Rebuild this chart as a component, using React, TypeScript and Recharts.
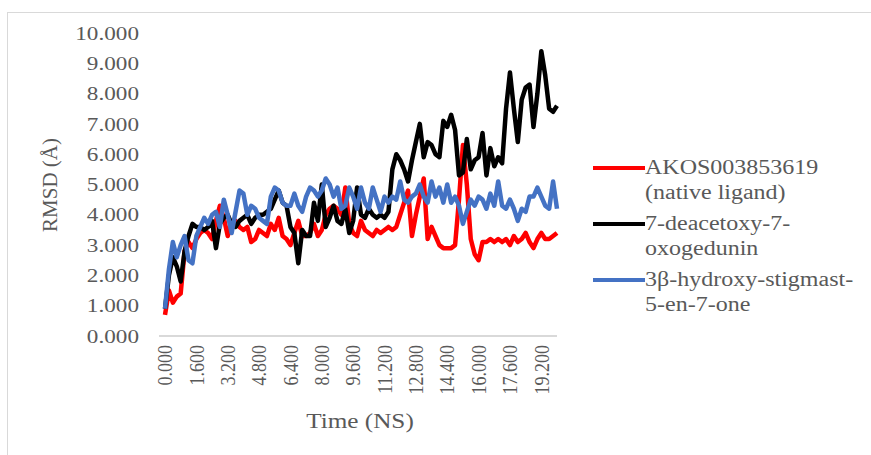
import { LineChart, Line, XAxis, YAxis, Legend } from "recharts";

const TIME = [
  0, 0.2, 0.4, 0.6, 0.8, 1, 1.2, 1.4, 1.6, 1.8,
  2, 2.2, 2.4, 2.6, 2.8, 3, 3.2, 3.4, 3.6, 3.8,
  4, 4.2, 4.4, 4.6, 4.8, 5, 5.2, 5.4, 5.6, 5.8,
  6, 6.2, 6.4, 6.6, 6.8, 7, 7.2, 7.4, 7.6, 7.8,
  8, 8.2, 8.4, 8.6, 8.8, 9, 9.2, 9.4, 9.6, 9.8,
  10, 10.2, 10.4, 10.6, 10.8, 11, 11.2, 11.4, 11.6, 11.8,
  12, 12.2, 12.4, 12.6, 12.8, 13, 13.2, 13.4, 13.6, 13.8,
  14, 14.2, 14.4, 14.6, 14.8, 15, 15.2, 15.4, 15.6, 15.8,
  16, 16.2, 16.4, 16.6, 16.8, 17, 17.2, 17.4, 17.6, 17.8,
  18, 18.2, 18.4, 18.6, 18.8, 19, 19.2, 19.4, 19.6, 19.8,
  20,
];

const NATIVE = [
  0.7, 1.5, 1.1, 1.3, 1.4, 2.8, 3.1, 2.9, 3.2, 3.4,
  3.5, 3.4, 3.2, 3.8, 4.3, 3.9, 3.3, 3.7, 3.8, 3.6,
  3.5, 3.6, 3.1, 3.2, 3.5, 3.4, 3.3, 3.7, 3.5, 3.9,
  3.3, 3.2, 3.0, 3.4, 3.8, 3.3, 3.3, 3.4, 3.7, 3.3,
  3.5, 4.0, 4.2, 4.3, 4.2, 4.0, 4.9, 3.7, 3.4, 3.3,
  3.8, 3.5, 3.4, 3.3, 3.5, 3.4, 3.5, 3.6, 3.5, 3.6,
  4.0, 4.4, 4.8, 3.3, 4.0, 4.6, 5.2, 3.2, 3.6, 3.3,
  3.0, 2.9, 2.9, 2.9, 3.0, 4.5, 6.3, 5.0, 3.2, 2.7,
  2.5, 3.1, 3.1, 3.2, 3.1, 3.2, 3.1, 3.2, 3.0, 3.3,
  3.1, 3.2, 3.4, 3.1, 2.9, 3.2, 3.4, 3.2, 3.2, 3.3,
  3.4,
];

const OXOGEDUNIN = [
  0.9, 2.0, 2.6, 2.3, 1.8, 2.8, 3.3, 3.7, 3.6, 3.6,
  3.5, 3.6, 3.8, 2.9, 3.7, 3.9, 4.0, 3.7, 3.6, 3.8,
  3.9, 4.0, 3.7, 3.9, 4.0, 4.0, 4.1, 4.2, 4.5, 4.8,
  4.4, 4.3, 3.6, 3.4, 2.4, 3.5, 3.3, 3.3, 4.4, 3.8,
  5.0, 3.6, 3.9, 4.3, 3.8, 3.7, 4.2, 3.4, 3.8, 4.9,
  4.0, 3.9, 4.2, 4.0, 3.9, 4.0, 3.9, 4.1, 5.5, 6.0,
  5.8, 5.5, 5.1, 5.8, 6.4, 7.0, 5.9, 6.4, 6.3, 6.0,
  5.9, 7.1, 6.9, 7.3, 6.8, 5.3, 5.4, 6.5, 5.5, 5.8,
  5.9, 6.7, 5.3, 6.2, 5.6, 5.9, 5.7, 7.5, 8.7, 7.5,
  6.4, 7.8, 8.2, 8.3, 6.9, 8.0, 9.4, 8.6, 7.5, 7.4,
  7.6,
];

const STIGMAST = [
  0.9, 2.2, 3.1, 2.6, 3.0, 3.3, 2.5, 2.4, 3.3, 3.6,
  3.9, 3.7, 4.0, 4.1, 3.6, 4.5, 4.0, 3.4, 4.1, 4.8,
  4.7, 4.0, 4.3, 4.2, 3.9, 3.8, 3.7, 4.6, 4.9, 4.8,
  4.4, 4.3, 4.3, 4.7, 4.3, 4.1, 4.6, 4.9, 4.8, 4.6,
  4.8, 5.2, 5.0, 4.6, 4.9, 4.2, 4.3, 4.9, 4.6, 4.2,
  4.9, 4.4, 4.2, 4.9, 4.5, 4.1, 4.6, 4.4, 4.6, 4.5,
  5.1, 4.5, 4.4, 4.6, 4.7, 5.0, 4.6, 4.4, 5.1, 4.6,
  4.9, 4.4, 5.0, 4.4, 4.6, 4.3, 3.7, 4.1, 4.5, 4.3,
  4.6, 4.5, 4.2, 4.7, 4.3, 5.1, 4.3, 4.2, 4.5, 4.2,
  3.8, 4.2, 4.1, 4.6, 4.6, 4.9, 4.6, 4.3, 4.2, 5.1,
  4.2,
];

const Y_TICKS = [0, 1, 2, 3, 4, 5, 6, 7, 8, 9, 10];

const SERIES = [
  { key: "native", name: "AKOS003853619 (native ligand)", lines: ["AKOS003853619", "(native ligand)"], color: "#ff0000" },
  { key: "oxo", name: "7-deacetoxy-7-oxogedunin", lines: ["7-deacetoxy-7-", "oxogedunin"], color: "#000000" },
  { key: "stig", name: "3β-hydroxy-stigmast-5-en-7-one", lines: ["3β-hydroxy-stigmast-", "5-en-7-one"], color: "#4472c4" },
];

const data = TIME.map((t, i) => ({
  t: t.toFixed(3),
  native: NATIVE[i],
  oxo: OXOGEDUNIN[i],
  stig: STIGMAST[i],
}));

const FONT = "'Liberation Serif', 'DejaVu Serif', serif";
const GREY = "#595959";

function YTick({ x, y, payload }: any) {
  return (
    <g transform={`translate(${x},${y})`}>
      <text
        textAnchor="end"
        dy="0.35em"
        fill={GREY}
        fontSize={19}
        fontFamily={FONT}
        transform="scale(1.22,1)"
      >
        {Number(payload.value).toFixed(3)}
      </text>
    </g>
  );
}

function XTick({ x, y, payload }: any) {
  return (
    <g transform={`translate(${x},${y})`}>
      <text
        textAnchor="end"
        dy="0.35em"
        fill={GREY}
        fontSize={18}
        fontFamily={FONT}
        transform="rotate(-90) scale(1,1.15)"
      >
        {payload.value}
      </text>
    </g>
  );
}

function LegendBox() {
  return (
    <div style={{ fontFamily: FONT, fontSize: 20, color: GREY }}>
      {SERIES.map((s) => (
        <div key={s.key} style={{ display: "flex", alignItems: "flex-start", marginBottom: 6 }}>
          <div style={{ width: 52, height: 4, background: s.color, marginTop: 11, flex: "none" }} />
          <div
            style={{
              lineHeight: "25px",
              transform: "scaleX(1.2)",
              transformOrigin: "left",
              whiteSpace: "nowrap",
            }}
          >
            {s.lines.map((l) => (
              <div key={l}>{l}</div>
            ))}
          </div>
        </div>
      ))}
    </div>
  );
}

export default function App() {
  return (
    <div
      style={{
        position: "absolute",
        left: 0,
        top: 0,
        width: 871,
        height: 455,
        overflow: "hidden",
        background: "#fff",
      }}
    >
      <div
        style={{
          position: "absolute",
          left: 7,
          top: 12,
          width: 900,
          height: 500,
          border: "1px solid #d9d9d9",
        }}
      />
      <div style={{ position: "absolute", left: 0, top: 0 }}>
        <LineChart
          width={871}
          height={455}
          data={data}
          margin={{ top: 33, right: 44, bottom: 19, left: 79 }}
        >
          <XAxis
            dataKey="t"
            interval={7}
            padding={{ left: 6, right: 0 }}
            axisLine={{ stroke: "#d9d9d9", strokeWidth: 2 }}
            tickLine={false}
            tickSize={4}
            tickMargin={5}
            height={100}
            tick={<XTick />}
            label={{
              content: () => (
                <text
                  x={360}
                  y={428}
                  textAnchor="middle"
                  fill={GREY}
                  fontSize={21}
                  fontFamily={FONT}
                  transform="translate(360,0) scale(1.2,1) translate(-360,0)"
                >
                  Time (NS)
                </text>
              ),
            }}
          />
          <YAxis
            domain={[0, 10]}
            ticks={Y_TICKS}
            width={80}
            axisLine={false}
            tickLine={false}
            tickSize={6}
            tickMargin={14}
            tick={<YTick />}
            label={{
              content: () => (
                <text
                  x={52}
                  y={185}
                  transform="rotate(-90,52,185)"
                  textAnchor="middle"
                  dominantBaseline="middle"
                  fill={GREY}
                  fontSize={21}
                  fontFamily={FONT}
                >
                  RMSD (Å)
                </text>
              ),
            }}
          />
          <Legend
            layout="vertical"
            align="right"
            verticalAlign="top"
            content={() => <LegendBox />}
            wrapperStyle={{ left: 593, top: 155, width: 270 }}
          />
          {SERIES.map((s) => (
            <Line
              key={s.key}
              dataKey={s.key}
              name={s.name}
              stroke={s.color}
              strokeWidth={4.5}
              strokeLinejoin="round"
              dot={false}
              isAnimationActive={false}
            />
          ))}
        </LineChart>
      </div>
    </div>
  );
}
